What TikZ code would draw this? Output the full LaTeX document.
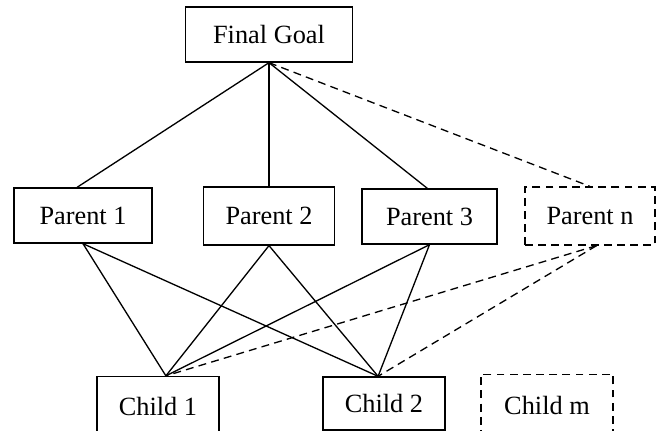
\documentclass[tikz,border=0pt]{standalone}
\usepackage{fontspec}
\setmainfont{Liberation Serif}

\begin{document}
\begin{tikzpicture}[x=0.456pt, y=-0.456pt, semithick, font=\fontsize{12}{14}\selectfont,
	main node/.style={rectangle, draw, inner sep=0pt, minimum height=25.1pt},
	generic/.style={dash pattern=on 3.6pt off 2.4pt}]
			\useasboundingbox (0,0) rectangle (659,431);
			\clip (0,0) rectangle (659,431);
			\node[main node, minimum width=76pt] (G) at (269,34.5) {Final Goal};
			\node[main node, minimum width=63pt] (P1) at (83,215.5) {Parent 1};
			\node[main node, minimum width=60pt, minimum height=26.4pt] (P2) at (269,216) {Parent 2};
			\node[main node, minimum width=61.5pt] (P3) at (429.5,216.5) {Parent 3};
			\node[main node, generic, minimum width=59.3pt, minimum height=26.4pt] (Pn) at (590,216) {Parent n};
			\node[main node, minimum width=55.6pt, minimum height=26.9pt] (C1) at (158,406) {Child 1};
			\node[main node, minimum width=55.6pt, minimum height=24.2pt] (C2) at (384,403.5) {Child 2};
			\node[main node, generic, minimum width=60.2pt, minimum height=28.3pt] (Cm) at (547,405.5) {Child m};
			
			\path
				(G.south) edge ([xshift=-2.7pt]P1.north)
				(G.south) edge (P2.north)
				(G.south) edge ([xshift=-1pt]P3.north)
				(G.south) edge [generic] (Pn.north)
				(P1.south) edge ([xshift=3.6pt]C1.north)
				(P1.south) edge ([xshift=-2.7pt]C2.north)
				(P2.south) edge ([xshift=3.6pt]C1.north)
				(P2.south) edge ([xshift=-2.7pt]C2.north)
				(P3.south) edge ([xshift=3.6pt]C1.north)
				(P3.south) edge ([xshift=-2.7pt]C2.north)
				([xshift=3pt]Pn.south) edge [generic] ([xshift=3.6pt]C1.north)
				([xshift=3pt]Pn.south) edge [generic] ([xshift=-2.7pt]C2.north)
			;
		\end{tikzpicture}
\end{document}
